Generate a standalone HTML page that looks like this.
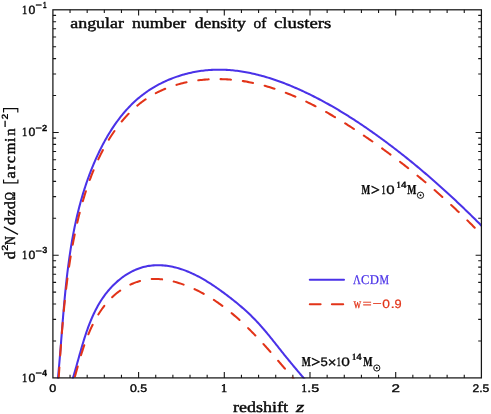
<!DOCTYPE html>
<html><head><meta charset="utf-8"><title>angular number density of clusters</title>
<style>html,body{margin:0;padding:0;background:#fff;}svg{display:block;will-change:transform;transform:translateZ(0)}text{font-kerning:none;text-rendering:geometricPrecision}</style></head>
<body>
<svg width="491" height="414" viewBox="0 0 491 414">
<rect width="491" height="414" fill="#fff"/>
<defs><clipPath id="c"><rect x="52.9" y="9.8" width="428.5" height="368.7"/></clipPath></defs>
<path d="M70.04 377.9 v-3.2 M70.04 9.8 v3.2 M87.18 377.9 v-3.2 M87.18 9.8 v3.2 M104.32 377.9 v-3.2 M104.32 9.8 v3.2 M121.46 377.9 v-3.2 M121.46 9.8 v3.2 M138.60 377.9 v-5.8 M138.60 9.8 v5.8 M155.74 377.9 v-3.2 M155.74 9.8 v3.2 M172.88 377.9 v-3.2 M172.88 9.8 v3.2 M190.02 377.9 v-3.2 M190.02 9.8 v3.2 M207.16 377.9 v-3.2 M207.16 9.8 v3.2 M224.30 377.9 v-5.8 M224.30 9.8 v5.8 M241.44 377.9 v-3.2 M241.44 9.8 v3.2 M258.58 377.9 v-3.2 M258.58 9.8 v3.2 M275.72 377.9 v-3.2 M275.72 9.8 v3.2 M292.86 377.9 v-3.2 M292.86 9.8 v3.2 M310.00 377.9 v-5.8 M310.00 9.8 v5.8 M327.14 377.9 v-3.2 M327.14 9.8 v3.2 M344.28 377.9 v-3.2 M344.28 9.8 v3.2 M361.42 377.9 v-3.2 M361.42 9.8 v3.2 M378.56 377.9 v-3.2 M378.56 9.8 v3.2 M395.70 377.9 v-5.8 M395.70 9.8 v5.8 M412.84 377.9 v-3.2 M412.84 9.8 v3.2 M429.98 377.9 v-3.2 M429.98 9.8 v3.2 M447.12 377.9 v-3.2 M447.12 9.8 v3.2 M464.26 377.9 v-3.2 M464.26 9.8 v3.2 M52.9 340.96 h3.2 M481.4 340.96 h-3.2 M52.9 319.36 h3.2 M481.4 319.36 h-3.2 M52.9 304.03 h3.2 M481.4 304.03 h-3.2 M52.9 292.14 h3.2 M481.4 292.14 h-3.2 M52.9 282.42 h3.2 M481.4 282.42 h-3.2 M52.9 274.21 h3.2 M481.4 274.21 h-3.2 M52.9 267.09 h3.2 M481.4 267.09 h-3.2 M52.9 260.81 h3.2 M481.4 260.81 h-3.2 M52.9 255.20 h5.8 M481.4 255.20 h-5.8 M52.9 218.26 h3.2 M481.4 218.26 h-3.2 M52.9 196.66 h3.2 M481.4 196.66 h-3.2 M52.9 181.33 h3.2 M481.4 181.33 h-3.2 M52.9 169.44 h3.2 M481.4 169.44 h-3.2 M52.9 159.72 h3.2 M481.4 159.72 h-3.2 M52.9 151.51 h3.2 M481.4 151.51 h-3.2 M52.9 144.39 h3.2 M481.4 144.39 h-3.2 M52.9 138.11 h3.2 M481.4 138.11 h-3.2 M52.9 132.50 h5.8 M481.4 132.50 h-5.8 M52.9 95.56 h3.2 M481.4 95.56 h-3.2 M52.9 73.96 h3.2 M481.4 73.96 h-3.2 M52.9 58.63 h3.2 M481.4 58.63 h-3.2 M52.9 46.74 h3.2 M481.4 46.74 h-3.2 M52.9 37.02 h3.2 M481.4 37.02 h-3.2 M52.9 28.81 h3.2 M481.4 28.81 h-3.2 M52.9 21.69 h3.2 M481.4 21.69 h-3.2 M52.9 15.41 h3.2 M481.4 15.41 h-3.2" stroke="#161616" stroke-width="1.1" fill="none"/>
<g clip-path="url(#c)" fill="none" stroke-linecap="round" stroke-linejoin="round" stroke-width="2.05">
<path d="M57.36 383.83 L57.52 382.37 L57.67 380.91 L57.81 379.45 L57.96 377.98 L58.10 376.52 L58.24 375.05 L58.38 373.58 L58.52 372.11 L58.66 370.64 L58.79 369.17 L58.92 367.70 L59.06 366.23 L59.19 364.75 L59.32 363.27 L59.44 361.80 L59.57 360.32 L59.70 358.84 L59.82 357.36 L59.94 355.88 L60.07 354.40 L60.19 352.92 L60.31 351.43 L60.43 349.95 L60.55 348.47 L60.67 346.98 L60.79 345.49 L60.91 344.01 L61.03 342.52 L61.14 341.03 L61.26 339.54 L61.38 338.05 L61.50 336.56 L61.61 335.07 L61.73 333.58 L61.85 332.09 L61.97 330.59 L62.09 329.10 L62.20 327.61 L62.32 326.11 L62.44 324.62 L62.56 323.13 L62.68 321.63 L62.80 320.14 L62.93 318.64 L63.05 317.14 L63.17 315.65 L63.30 314.15 L63.42 312.65 L63.55 311.16 L63.68 309.66 L63.81 308.16 L63.94 306.67 L64.07 305.17 L64.20 303.67 L64.34 302.17 L64.47 300.68 L64.61 299.18 L64.75 297.68 L64.89 296.18 L65.04 294.69 L65.18 293.19 L65.33 291.69 L65.48 290.19 L65.63 288.70 L65.78 287.20 L65.94 285.70 L66.10 284.21 L66.26 282.71 L66.42 281.22 L66.58 279.72 L66.75 278.23 L66.92 276.73 L67.10 275.24 L67.27 273.74 L67.45 272.25 L67.63 270.76 L67.82 269.26 L68.01 267.77 L68.20 266.28 L68.39 264.79 L68.59 263.30 L68.79 261.81 L68.99 260.32 L69.20 258.83 L69.41 257.34 L69.63 255.86 L69.85 254.37 L70.07 252.89 L70.30 251.40 L70.53 249.92 L70.76 248.43 L71.00 246.95 L71.24 245.47 L71.49 243.99 L71.74 242.51 L71.99 241.03 L72.25 239.55 L72.51 238.08 L72.78 236.60 L73.05 235.13 L73.33 233.65 L73.61 232.18 L73.90 230.71 L74.19 229.24 L74.49 227.77 L74.79 226.30 L75.09 224.83 L75.41 223.37 L75.72 221.90 L76.04 220.44 L76.37 218.98 L76.70 217.52 L77.04 216.06 L77.39 214.60 L77.74 213.14 L78.09 211.69 L78.45 210.24 L78.82 208.78 L79.19 207.33 L79.57 205.88 L79.95 204.44 L80.34 202.99 L80.74 201.55 L81.14 200.10 L81.55 198.66 L81.96 197.22 L82.39 195.79 L82.81 194.35 L83.25 192.92 L83.69 191.48 L84.14 190.05 L84.59 188.62 L85.05 187.20 L85.52 185.77 L85.99 184.35 L86.48 182.93 L86.97 181.51 L87.46 180.09 L87.97 178.67 L88.48 177.26 L88.99 175.85 L89.52 174.44 L90.05 173.03 L90.59 171.63 L91.14 170.22 L91.70 168.82 L92.26 167.42 L92.83 166.03 L93.41 164.63 L94.00 163.24 L94.60 161.85 L95.20 160.46 L95.81 159.08 L96.43 157.69 L97.06 156.31 L97.70 154.94 L98.34 153.56 L98.99 152.19 L99.66 150.82 L100.33 149.46 L101.01 148.10 L101.70 146.75 L102.39 145.40 L103.10 144.05 L103.82 142.71 L104.54 141.38 L105.27 140.05 L106.02 138.73 L106.77 137.41 L107.53 136.10 L108.31 134.80 L109.09 133.50 L109.88 132.21 L110.68 130.93 L111.49 129.66 L112.31 128.39 L113.14 127.13 L113.98 125.88 L114.83 124.64 L115.70 123.41 L116.57 122.19 L117.45 120.98 L118.34 119.77 L119.25 118.58 L120.16 117.40 L121.09 116.22 L122.02 115.06 L122.97 113.91 L123.93 112.77 L124.89 111.64 L125.87 110.53 L126.86 109.42 L127.87 108.33 L128.88 107.25 L129.90 106.18 L130.94 105.13 L131.99 104.08 L133.05 103.06 L134.12 102.04 L135.20 101.04 L136.30 100.06 L137.41 99.09 L138.53 98.13 L139.66 97.19 L140.80 96.26 L141.96 95.35 L143.12 94.45 L144.30 93.57 L145.49 92.71 L146.69 91.86 L147.91 91.02 L149.13 90.20 L150.36 89.40 L151.61 88.61 L152.86 87.84 L154.13 87.08 L155.40 86.34 L156.69 85.62 L157.98 84.91 L159.28 84.21 L160.59 83.54 L161.91 82.87 L163.24 82.23 L164.57 81.60 L165.92 80.98 L167.27 80.38 L168.63 79.80 L170.00 79.23 L171.37 78.68 L172.75 78.15 L174.14 77.63 L175.53 77.12 L176.93 76.64 L178.34 76.17 L179.75 75.71 L181.17 75.27 L182.59 74.85 L184.02 74.45 L185.45 74.06 L186.89 73.68 L188.33 73.33 L189.77 72.99 L191.22 72.66 L192.68 72.36 L194.14 72.07 L195.60 71.79 L197.06 71.53 L198.53 71.29 L200.00 71.07 L201.47 70.86 L202.95 70.67 L204.42 70.50 L205.90 70.34 L207.38 70.20 L208.87 70.07 L210.35 69.97 L211.84 69.88 L213.32 69.80 L214.81 69.74 L216.29 69.71 L217.78 69.68 L219.27 69.68 L220.75 69.69 L222.24 69.71 L223.73 69.76 L225.22 69.82 L226.70 69.89 L228.19 69.98 L229.67 70.09 L231.16 70.21 L232.65 70.34 L234.13 70.49 L235.61 70.66 L237.10 70.84 L238.58 71.03 L240.06 71.24 L241.54 71.46 L243.02 71.70 L244.50 71.95 L245.98 72.21 L247.46 72.49 L248.93 72.78 L250.41 73.08 L251.88 73.39 L253.35 73.72 L254.82 74.06 L256.29 74.41 L257.76 74.77 L259.23 75.14 L260.69 75.53 L262.15 75.92 L263.61 76.33 L265.07 76.75 L266.52 77.18 L267.98 77.62 L269.43 78.06 L270.88 78.52 L272.33 78.99 L273.77 79.47 L275.21 79.96 L276.65 80.46 L278.09 80.96 L279.52 81.48 L280.96 82.00 L282.38 82.54 L283.81 83.08 L285.23 83.63 L286.65 84.19 L288.07 84.75 L289.48 85.32 L290.89 85.90 L292.30 86.49 L293.71 87.08 L295.11 87.69 L296.50 88.29 L297.90 88.91 L299.29 89.53 L300.67 90.15 L302.06 90.79 L303.43 91.42 L304.81 92.07 L306.18 92.72 L307.55 93.37 L308.91 94.03 L310.27 94.69 L311.62 95.36 L312.97 96.04 L314.32 96.72 L315.67 97.40 L317.01 98.09 L318.34 98.78 L319.67 99.48 L321.00 100.18 L322.33 100.89 L323.65 101.60 L324.97 102.32 L326.29 103.04 L327.60 103.77 L328.91 104.50 L330.21 105.24 L331.51 105.97 L332.81 106.72 L334.11 107.47 L335.40 108.22 L336.69 108.98 L337.98 109.74 L339.26 110.50 L340.54 111.27 L341.82 112.04 L343.09 112.82 L344.37 113.60 L345.64 114.39 L346.90 115.17 L348.17 115.97 L349.43 116.76 L350.68 117.56 L351.94 118.36 L353.19 119.17 L354.44 119.98 L355.69 120.80 L356.94 121.61 L358.18 122.43 L359.42 123.26 L360.66 124.09 L361.90 124.92 L363.13 125.75 L364.36 126.59 L365.59 127.43 L366.82 128.27 L368.04 129.12 L369.27 129.97 L370.49 130.82 L371.71 131.68 L372.92 132.54 L374.14 133.40 L375.35 134.26 L376.57 135.13 L377.78 136.00 L378.98 136.87 L380.19 137.74 L381.39 138.62 L382.60 139.50 L383.80 140.39 L385.00 141.27 L386.19 142.16 L387.39 143.05 L388.58 143.95 L389.77 144.84 L390.96 145.74 L392.15 146.64 L393.34 147.55 L394.52 148.45 L395.71 149.36 L396.89 150.28 L398.07 151.19 L399.24 152.11 L400.42 153.03 L401.59 153.95 L402.77 154.87 L403.94 155.80 L405.11 156.73 L406.27 157.66 L407.44 158.59 L408.60 159.53 L409.76 160.47 L410.92 161.41 L412.08 162.35 L413.24 163.30 L414.39 164.25 L415.55 165.20 L416.70 166.15 L417.85 167.11 L419.00 168.07 L420.14 169.03 L421.29 169.99 L422.43 170.95 L423.57 171.92 L424.71 172.89 L425.85 173.86 L426.99 174.83 L428.12 175.81 L429.26 176.78 L430.39 177.76 L431.52 178.74 L432.64 179.73 L433.77 180.71 L434.90 181.70 L436.02 182.69 L437.14 183.68 L438.26 184.68 L439.38 185.68 L440.50 186.67 L441.61 187.67 L442.73 188.68 L443.84 189.68 L444.95 190.69 L446.06 191.69 L447.16 192.70 L448.27 193.72 L449.37 194.73 L450.48 195.75 L451.58 196.76 L452.68 197.78 L453.77 198.81 L454.87 199.83 L455.96 200.85 L457.06 201.88 L458.15 202.91 L459.24 203.94 L460.33 204.97 L461.41 206.01 L462.50 207.04 L463.58 208.08 L464.67 209.12 L465.75 210.16 L466.83 211.20 L467.90 212.25 L468.98 213.29 L470.05 214.34 L471.13 215.39 L472.20 216.44 L473.27 217.49 L474.34 218.55 L475.40 219.60 L476.47 220.66 L477.53 221.72 L478.60 222.78 L479.66 223.84 L480.72 224.91 L481.78 225.97 L482.83 227.04 L483.89 228.10 L484.94 229.17 L486.00 230.24" stroke="#4a32e8"/>
<path d="M71.07 383.88 L71.52 382.50 L71.97 381.11 L72.41 379.72 L72.84 378.32 L73.28 376.91 L73.70 375.50 L74.12 374.08 L74.54 372.66 L74.96 371.23 L75.37 369.80 L75.78 368.36 L76.19 366.92 L76.59 365.48 L77.00 364.04 L77.40 362.59 L77.81 361.14 L78.21 359.69 L78.62 358.24 L79.02 356.78 L79.43 355.33 L79.84 353.87 L80.25 352.42 L80.66 350.96 L81.08 349.50 L81.50 348.05 L81.92 346.59 L82.35 345.14 L82.78 343.68 L83.22 342.23 L83.66 340.78 L84.11 339.33 L84.56 337.89 L85.03 336.45 L85.49 335.01 L85.97 333.58 L86.45 332.14 L86.95 330.72 L87.45 329.30 L87.96 327.88 L88.48 326.47 L89.01 325.06 L89.55 323.66 L90.10 322.26 L90.67 320.87 L91.24 319.49 L91.83 318.12 L92.43 316.75 L93.04 315.39 L93.67 314.03 L94.30 312.69 L94.96 311.35 L95.63 310.03 L96.31 308.71 L97.01 307.40 L97.73 306.10 L98.46 304.81 L99.20 303.53 L99.97 302.26 L100.75 301.01 L101.55 299.76 L102.37 298.53 L103.21 297.30 L104.07 296.09 L104.94 294.89 L105.84 293.71 L106.76 292.54 L107.70 291.38 L108.66 290.23 L109.64 289.10 L110.64 287.99 L111.67 286.88 L112.71 285.80 L113.78 284.73 L114.87 283.68 L115.98 282.65 L117.11 281.63 L118.26 280.64 L119.43 279.67 L120.62 278.72 L121.82 277.80 L123.04 276.90 L124.28 276.03 L125.54 275.18 L126.82 274.37 L128.10 273.58 L129.41 272.82 L130.73 272.09 L132.06 271.39 L133.41 270.73 L134.77 270.10 L136.15 269.50 L137.54 268.94 L138.94 268.42 L140.35 267.94 L141.77 267.49 L143.21 267.08 L144.65 266.72 L146.11 266.39 L147.57 266.11 L149.04 265.87 L150.52 265.66 L152.01 265.50 L153.49 265.37 L154.99 265.29 L156.48 265.23 L157.97 265.22 L159.47 265.24 L160.96 265.29 L162.45 265.37 L163.94 265.49 L165.42 265.64 L166.90 265.82 L168.37 266.03 L169.83 266.27 L171.29 266.54 L172.74 266.83 L174.19 267.15 L175.63 267.51 L177.06 267.88 L178.49 268.28 L179.92 268.71 L181.33 269.16 L182.74 269.64 L184.15 270.14 L185.55 270.66 L186.94 271.20 L188.33 271.76 L189.71 272.35 L191.09 272.95 L192.46 273.57 L193.82 274.22 L195.18 274.88 L196.53 275.55 L197.88 276.25 L199.22 276.96 L200.55 277.69 L201.88 278.43 L203.20 279.18 L204.52 279.95 L205.83 280.73 L207.13 281.53 L208.43 282.33 L209.73 283.15 L211.01 283.98 L212.29 284.82 L213.57 285.66 L214.83 286.52 L216.10 287.38 L217.35 288.26 L218.60 289.13 L219.85 290.02 L221.08 290.91 L222.31 291.80 L223.54 292.70 L224.76 293.60 L225.97 294.51 L227.18 295.42 L228.38 296.33 L229.58 297.24 L230.76 298.16 L231.95 299.08 L233.12 300.01 L234.29 300.94 L235.45 301.88 L236.61 302.82 L237.76 303.76 L238.90 304.72 L240.03 305.67 L241.16 306.64 L242.28 307.61 L243.40 308.58 L244.50 309.56 L245.60 310.55 L246.70 311.55 L247.78 312.55 L248.86 313.56 L249.93 314.58 L250.99 315.61 L252.05 316.65 L253.09 317.69 L254.13 318.75 L255.17 319.81 L256.19 320.88 L257.21 321.96 L258.22 323.05 L259.22 324.15 L260.21 325.26 L261.20 326.37 L262.19 327.49 L263.16 328.61 L264.14 329.74 L265.10 330.88 L266.07 332.02 L267.02 333.17 L267.98 334.32 L268.92 335.47 L269.87 336.63 L270.81 337.79 L271.75 338.95 L272.68 340.12 L273.61 341.28 L274.54 342.45 L275.47 343.62 L276.39 344.79 L277.32 345.96 L278.24 347.13 L279.16 348.30 L280.08 349.46 L281.00 350.63 L281.93 351.79 L282.85 352.95 L283.78 354.11 L284.71 355.27 L285.64 356.42 L286.58 357.57 L287.51 358.73 L288.45 359.87 L289.39 361.02 L290.34 362.17 L291.28 363.31 L292.23 364.46 L293.18 365.60 L294.13 366.74 L295.09 367.88 L296.04 369.02 L297.00 370.17 L297.96 371.31 L298.92 372.45 L299.89 373.59 L300.85 374.74 L301.82 375.88 L302.78 377.03 L303.75 378.18 L304.72 379.33 L305.68 380.48 L306.64 381.64 L307.61 382.80 L308.57 383.97" stroke="#4a32e8"/>
<path d="M58.28 383.98 L58.38 382.50 L58.48 381.01 L58.58 379.52 L58.68 378.04 L58.78 376.55 L58.88 375.06 L58.98 373.57 L59.08 372.08 L59.18 370.60 L59.28 369.11 L59.38 367.62 L59.48 366.13 L59.58 364.64 L59.68 363.15 L59.79 361.65 L59.89 360.16 L59.99 358.67 L60.09 357.18 L60.20 355.69 L60.30 354.19 L60.41 352.70 L60.51 351.21 L60.62 349.71 L60.73 348.22 L60.84 346.73 L60.94 345.23 L61.05 343.74 L61.17 342.24 L61.28 340.75 L61.39 339.26 L61.50 337.76 L61.62 336.27 L61.74 334.77 L61.85 333.28 L61.97 331.78 L62.09 330.29 L62.22 328.79 L62.34 327.30 L62.46 325.80 L62.59 324.31 L62.72 322.81 L62.85 321.32 L62.98 319.83 L63.11 318.33 L63.24 316.84 L63.38 315.34 L63.52 313.85 L63.66 312.35 L63.80 310.86 L63.94 309.37 L64.09 307.87 L64.23 306.38 L64.38 304.89 L64.54 303.40 L64.69 301.90 L64.84 300.41 L65.00 298.92 L65.16 297.43 L65.33 295.94 L65.49 294.45 L65.66 292.96 L65.83 291.47 L66.00 289.98 L66.18 288.49 L66.35 287.00 L66.53 285.51 L66.72 284.02 L66.90 282.53 L67.09 281.05 L67.28 279.56 L67.48 278.07 L67.67 276.59 L67.87 275.10 L68.08 273.62 L68.28 272.14 L68.49 270.65 L68.70 269.17 L68.92 267.69 L69.14 266.21 L69.36 264.73 L69.58 263.24 L69.81 261.77 L70.04 260.29 L70.28 258.81 L70.52 257.33 L70.76 255.85 L71.01 254.38 L71.25 252.90 L71.51 251.43 L71.76 249.95 L72.02 248.48 L72.29 247.01 L72.56 245.54 L72.83 244.07 L73.10 242.60 L73.38 241.13 L73.67 239.66 L73.95 238.20 L74.25 236.73 L74.54 235.26 L74.84 233.80 L75.15 232.34 L75.45 230.87 L75.77 229.41 L76.08 227.95 L76.40 226.49 L76.73 225.04 L77.06 223.58 L77.40 222.12 L77.74 220.67 L78.08 219.22 L78.43 217.76 L78.79 216.31 L79.15 214.86 L79.51 213.42 L79.88 211.97 L80.26 210.53 L80.64 209.08 L81.03 207.64 L81.42 206.20 L81.82 204.76 L82.22 203.32 L82.63 201.89 L83.05 200.45 L83.47 199.02 L83.90 197.59 L84.33 196.16 L84.77 194.74 L85.22 193.31 L85.67 191.89 L86.13 190.47 L86.60 189.05 L87.07 187.63 L87.56 186.22 L88.04 184.81 L88.54 183.40 L89.04 181.99 L89.55 180.58 L90.06 179.18 L90.59 177.78 L91.12 176.38 L91.66 174.98 L92.20 173.59 L92.76 172.19 L93.32 170.81 L93.89 169.42 L94.46 168.03 L95.05 166.65 L95.64 165.27 L96.25 163.90 L96.86 162.53 L97.48 161.16 L98.10 159.79 L98.74 158.43 L99.39 157.07 L100.04 155.72 L100.71 154.37 L101.39 153.03 L102.07 151.68 L102.77 150.35 L103.47 149.02 L104.19 147.69 L104.91 146.37 L105.65 145.06 L106.40 143.75 L107.15 142.44 L107.92 141.14 L108.70 139.85 L109.50 138.56 L110.30 137.28 L111.11 136.01 L111.94 134.74 L112.78 133.48 L113.63 132.23 L114.49 130.99 L115.36 129.76 L116.24 128.53 L117.14 127.31 L118.04 126.11 L118.96 124.91 L119.89 123.72 L120.84 122.55 L121.79 121.38 L122.75 120.23 L123.73 119.08 L124.72 117.95 L125.72 116.83 L126.73 115.73 L127.76 114.63 L128.80 113.55 L129.84 112.49 L130.91 111.43 L131.98 110.40 L133.06 109.37 L134.16 108.36 L135.27 107.37 L136.39 106.39 L137.52 105.43 L138.67 104.48 L139.83 103.55 L141.00 102.64 L142.18 101.74 L143.38 100.86 L144.58 100.00 L145.80 99.16 L147.04 98.34 L148.28 97.53 L149.54 96.75 L150.80 95.98 L152.08 95.23 L153.37 94.50 L154.68 93.78 L155.99 93.09 L157.31 92.41 L158.64 91.76 L159.99 91.11 L161.34 90.49 L162.70 89.89 L164.07 89.30 L165.45 88.73 L166.83 88.18 L168.23 87.64 L169.63 87.12 L171.04 86.62 L172.45 86.14 L173.88 85.67 L175.31 85.22 L176.74 84.79 L178.18 84.37 L179.63 83.97 L181.08 83.59 L182.54 83.22 L184.00 82.87 L185.47 82.54 L186.94 82.22 L188.41 81.92 L189.89 81.63 L191.37 81.36 L192.86 81.10 L194.35 80.86 L195.83 80.64 L197.33 80.43 L198.82 80.24 L200.31 80.06 L201.81 79.90 L203.31 79.75 L204.81 79.62 L206.30 79.50 L207.80 79.40 L209.30 79.31 L210.80 79.24 L212.29 79.18 L213.79 79.14 L215.28 79.11 L216.77 79.09 L218.26 79.09 L219.75 79.11 L221.24 79.13 L222.72 79.17 L224.21 79.23 L225.69 79.30 L227.17 79.38 L228.65 79.47 L230.12 79.58 L231.59 79.70 L233.07 79.84 L234.54 79.98 L236.00 80.14 L237.47 80.32 L238.94 80.50 L240.40 80.70 L241.86 80.91 L243.32 81.13 L244.77 81.37 L246.23 81.61 L247.68 81.87 L249.13 82.14 L250.58 82.42 L252.03 82.71 L253.47 83.02 L254.92 83.33 L256.36 83.66 L257.79 84.00 L259.23 84.35 L260.67 84.71 L262.10 85.08 L263.53 85.46 L264.96 85.85 L266.38 86.25 L267.81 86.67 L269.23 87.09 L270.65 87.52 L272.07 87.96 L273.48 88.42 L274.90 88.88 L276.31 89.35 L277.72 89.83 L279.13 90.32 L280.53 90.82 L281.93 91.33 L283.33 91.85 L284.73 92.37 L286.13 92.91 L287.52 93.45 L288.91 94.00 L290.30 94.57 L291.69 95.13 L293.08 95.71 L294.46 96.30 L295.84 96.89 L297.22 97.49 L298.59 98.10 L299.97 98.72 L301.34 99.34 L302.71 99.97 L304.07 100.61 L305.44 101.26 L306.80 101.91 L308.16 102.57 L309.52 103.24 L310.87 103.91 L312.22 104.59 L313.58 105.28 L314.92 105.97 L316.27 106.67 L317.61 107.38 L318.95 108.09 L320.29 108.81 L321.62 109.53 L322.96 110.26 L324.29 110.99 L325.62 111.73 L326.94 112.48 L328.27 113.23 L329.59 113.99 L330.90 114.75 L332.22 115.51 L333.53 116.28 L334.84 117.06 L336.15 117.84 L337.46 118.62 L338.76 119.41 L340.06 120.20 L341.36 121.00 L342.65 121.80 L343.95 122.60 L345.24 123.41 L346.52 124.22 L347.81 125.04 L349.09 125.85 L350.37 126.68 L351.65 127.50 L352.92 128.33 L354.19 129.16 L355.46 129.99 L356.73 130.83 L357.99 131.67 L359.25 132.51 L360.51 133.35 L361.76 134.20 L363.02 135.05 L364.27 135.90 L365.51 136.75 L366.76 137.60 L368.00 138.46 L369.24 139.32 L370.47 140.17 L371.71 141.03 L372.94 141.90 L374.17 142.76 L375.39 143.62 L376.61 144.49 L377.83 145.36 L379.05 146.23 L380.27 147.10 L381.48 147.97 L382.69 148.85 L383.89 149.73 L385.10 150.61 L386.30 151.49 L387.50 152.37 L388.70 153.25 L389.89 154.14 L391.08 155.03 L392.27 155.92 L393.46 156.81 L394.65 157.70 L395.83 158.60 L397.01 159.50 L398.19 160.40 L399.37 161.30 L400.54 162.20 L401.71 163.11 L402.88 164.02 L404.05 164.93 L405.22 165.84 L406.38 166.75 L407.54 167.67 L408.70 168.59 L409.86 169.51 L411.01 170.43 L412.16 171.36 L413.32 172.28 L414.47 173.21 L415.61 174.14 L416.76 175.08 L417.90 176.01 L419.04 176.95 L420.18 177.89 L421.32 178.84 L422.46 179.78 L423.59 180.73 L424.73 181.68 L425.86 182.64 L426.99 183.59 L428.11 184.55 L429.24 185.51 L430.36 186.47 L431.49 187.44 L432.61 188.41 L433.73 189.38 L434.85 190.35 L435.96 191.32 L437.08 192.30 L438.19 193.28 L439.30 194.27 L440.41 195.25 L441.52 196.24 L442.63 197.23 L443.74 198.23 L444.84 199.23 L445.95 200.23 L447.05 201.23 L448.15 202.23 L449.25 203.24 L450.35 204.25 L451.45 205.27 L452.54 206.28 L453.64 207.30 L454.73 208.33 L455.82 209.35 L456.92 210.38 L458.01 211.41 L459.10 212.45 L460.18 213.48 L461.27 214.52 L462.36 215.57 L463.44 216.61 L464.53 217.66 L465.61 218.72 L466.69 219.77 L467.78 220.83 L468.86 221.89 L469.94 222.96 L471.02 224.03 L472.10 225.10 L473.17 226.17 L474.25 227.25 L475.33 228.33 L476.40 229.42 L477.48 230.51 L478.55 231.60 L479.62 232.69 L480.70 233.79 L481.77 234.89 L482.84 235.99 L483.91 237.10 L484.98 238.21 L486.05 239.33" stroke="#e23318" stroke-dasharray="10.4 11.92" stroke-dashoffset="-6.21"/>
<path d="M73.05 383.59 L73.41 382.29 L73.77 380.98 L74.13 379.65 L74.50 378.31 L74.86 376.96 L75.23 375.60 L75.60 374.23 L75.98 372.85 L76.36 371.46 L76.74 370.06 L77.13 368.65 L77.52 367.24 L77.91 365.82 L78.32 364.39 L78.72 362.96 L79.14 361.52 L79.56 360.08 L79.98 358.63 L80.41 357.18 L80.85 355.73 L81.30 354.27 L81.76 352.81 L82.22 351.36 L82.69 349.90 L83.17 348.44 L83.66 346.98 L84.16 345.52 L84.67 344.06 L85.19 342.61 L85.72 341.15 L86.26 339.70 L86.81 338.26 L87.37 336.82 L87.94 335.38 L88.53 333.95 L89.12 332.52 L89.73 331.10 L90.36 329.69 L90.99 328.29 L91.64 326.89 L92.31 325.50 L92.98 324.12 L93.67 322.75 L94.38 321.39 L95.10 320.05 L95.84 318.71 L96.59 317.38 L97.36 316.07 L98.15 314.77 L98.95 313.49 L99.77 312.22 L100.60 310.96 L101.46 309.72 L102.33 308.49 L103.22 307.28 L104.12 306.09 L105.05 304.91 L106.00 303.76 L106.96 302.62 L107.95 301.50 L108.95 300.40 L109.98 299.32 L111.03 298.26 L112.10 297.23 L113.18 296.21 L114.29 295.22 L115.42 294.25 L116.57 293.30 L117.74 292.38 L118.93 291.48 L120.13 290.61 L121.35 289.77 L122.59 288.95 L123.84 288.16 L125.11 287.40 L126.40 286.66 L127.70 285.96 L129.01 285.28 L130.33 284.64 L131.67 284.03 L133.02 283.45 L134.39 282.90 L135.76 282.38 L137.14 281.90 L138.54 281.45 L139.94 281.04 L141.35 280.66 L142.77 280.32 L144.20 280.01 L145.64 279.74 L147.08 279.51 L148.53 279.32 L149.98 279.17 L151.44 279.06 L152.91 278.98 L154.37 278.95 L155.84 278.95 L157.32 278.99 L158.79 279.06 L160.27 279.17 L161.75 279.31 L163.23 279.48 L164.70 279.68 L166.18 279.91 L167.66 280.17 L169.13 280.46 L170.60 280.78 L172.07 281.12 L173.54 281.48 L175.00 281.87 L176.45 282.28 L177.90 282.71 L179.35 283.16 L180.79 283.63 L182.22 284.12 L183.64 284.62 L185.05 285.14 L186.46 285.68 L187.86 286.23 L189.25 286.80 L190.63 287.38 L192.01 287.98 L193.37 288.59 L194.73 289.21 L196.08 289.85 L197.43 290.51 L198.76 291.18 L200.09 291.86 L201.41 292.55 L202.73 293.26 L204.03 293.98 L205.33 294.71 L206.62 295.46 L207.91 296.22 L209.19 296.99 L210.46 297.77 L211.72 298.56 L212.98 299.37 L214.23 300.18 L215.47 301.01 L216.71 301.85 L217.94 302.70 L219.17 303.56 L220.38 304.43 L221.60 305.31 L222.80 306.20 L224.00 307.10 L225.19 308.01 L226.38 308.93 L227.56 309.86 L228.74 310.80 L229.90 311.75 L231.07 312.70 L232.23 313.66 L233.38 314.63 L234.52 315.61 L235.66 316.60 L236.80 317.59 L237.93 318.60 L239.06 319.60 L240.17 320.62 L241.29 321.64 L242.40 322.67 L243.50 323.71 L244.60 324.75 L245.70 325.79 L246.79 326.85 L247.87 327.91 L248.95 328.97 L250.03 330.04 L251.10 331.11 L252.16 332.19 L253.23 333.27 L254.28 334.36 L255.34 335.45 L256.39 336.55 L257.43 337.65 L258.47 338.75 L259.51 339.85 L260.54 340.96 L261.57 342.07 L262.60 343.19 L263.62 344.31 L264.64 345.43 L265.65 346.55 L266.66 347.67 L267.67 348.79 L268.67 349.92 L269.68 351.05 L270.67 352.18 L271.67 353.31 L272.66 354.44 L273.65 355.57 L274.63 356.70 L275.62 357.83 L276.59 358.96 L277.57 360.09 L278.55 361.22 L279.52 362.35 L280.49 363.48 L281.45 364.61 L282.42 365.73 L283.38 366.86 L284.34 367.98 L285.30 369.10 L286.25 370.22 L287.20 371.34 L288.16 372.45 L289.10 373.56 L290.05 374.67 L291.00 375.77 L291.94 376.87 L292.88 377.97 L293.82 379.07 L294.76 380.16 L295.70 381.24 L296.64 382.33 L297.57 383.40" stroke="#e23318" stroke-dasharray="10.4 11.8" stroke-dashoffset="-7.27"/>
</g>
<rect x="52.9" y="9.8" width="428.5" height="368.09999999999997" fill="none" stroke="#161616" stroke-width="1.25"/>
<path d="M309.8 279.8 H344.0" stroke="#4a32e8" stroke-width="2.05" stroke-linecap="round"/>
<path d="M309.8 304.2 H320.6 M331.9 304.2 H343.2" stroke="#e23318" stroke-width="2.05" stroke-linecap="round"/>
<text x="352.92" y="283.90" font-family="Liberation Serif" font-size="13.4" fill="#4a32e8" textLength="7.87" lengthAdjust="spacingAndGlyphs" stroke="#4a32e8" stroke-width="0.25">Λ</text>
<text x="361.01" y="283.90" font-family="Liberation Serif" font-size="13.4" fill="#4a32e8" textLength="8.35" lengthAdjust="spacingAndGlyphs" stroke="#4a32e8" stroke-width="0.25">C</text>
<text x="369.76" y="283.90" font-family="Liberation Serif" font-size="13.4" fill="#4a32e8" textLength="9.23" lengthAdjust="spacingAndGlyphs" stroke="#4a32e8" stroke-width="0.25">D</text>
<text x="379.62" y="283.90" font-family="Liberation Serif" font-size="13.4" fill="#4a32e8" textLength="9.52" lengthAdjust="spacingAndGlyphs" stroke="#4a32e8" stroke-width="0.25">M</text>
<text x="353.61" y="308.30" font-family="Liberation Serif" font-size="14.4" fill="#e23318" textLength="7.71" lengthAdjust="spacingAndGlyphs" stroke="#e23318" stroke-width="0.25">w</text>
<text x="362.61" y="308.30" font-family="Liberation Serif" font-size="13.4" fill="#e23318" textLength="9.27" lengthAdjust="spacingAndGlyphs" stroke="#e23318" stroke-width="0.25">=</text>
<text x="372.41" y="308.30" font-family="Liberation Serif" font-size="13.4" fill="#e23318" textLength="9.27" lengthAdjust="spacingAndGlyphs" stroke="#e23318" stroke-width="0.25">−</text>
<text x="382.36" y="308.40" font-family="Liberation Sans" font-size="12.1" fill="#e23318" textLength="7.68" lengthAdjust="spacingAndGlyphs" stroke="#e23318" stroke-width="0.2">0</text>
<text x="390.46" y="308.40" font-family="Liberation Sans" font-size="12.1" fill="#e23318" textLength="4.38" lengthAdjust="spacingAndGlyphs" stroke="#e23318" stroke-width="0.2">.</text>
<text x="394.60" y="308.40" font-family="Liberation Sans" font-size="12.1" fill="#e23318" textLength="7.10" lengthAdjust="spacingAndGlyphs" stroke="#e23318" stroke-width="0.2">9</text>
<text x="70.28" y="28.00" font-family="Liberation Serif" font-size="15.1" fill="#0a0a0a" textLength="53.67" lengthAdjust="spacingAndGlyphs" stroke="#0a0a0a" stroke-width="0.42">angular</text>
<text x="131.90" y="28.00" font-family="Liberation Serif" font-size="15.1" fill="#0a0a0a" textLength="54.34" lengthAdjust="spacingAndGlyphs" stroke="#0a0a0a" stroke-width="0.42">number</text>
<text x="194.77" y="28.00" font-family="Liberation Serif" font-size="15.1" fill="#0a0a0a" textLength="51.09" lengthAdjust="spacingAndGlyphs" stroke="#0a0a0a" stroke-width="0.42">density</text>
<text x="253.62" y="28.00" font-family="Liberation Serif" font-size="15.1" fill="#0a0a0a" textLength="12.87" lengthAdjust="spacingAndGlyphs" stroke="#0a0a0a" stroke-width="0.42">of</text>
<text x="274.05" y="28.00" font-family="Liberation Serif" font-size="15.1" fill="#0a0a0a" textLength="57.22" lengthAdjust="spacingAndGlyphs" stroke="#0a0a0a" stroke-width="0.42">clusters</text>
<text x="233.05" y="411.90" font-family="Liberation Serif" font-size="15.1" fill="#0a0a0a" textLength="55.05" lengthAdjust="spacingAndGlyphs" stroke="#0a0a0a" stroke-width="0.42">redshift</text>
<text x="296.05" y="411.90" font-family="Liberation Serif" font-size="15.1" font-style="italic" fill="#0a0a0a" textLength="8.22" lengthAdjust="spacingAndGlyphs" stroke="#0a0a0a" stroke-width="0.42">z</text>
<text x="49.21" y="392.00" font-family="Liberation Sans" font-size="11.0" fill="#0a0a0a" textLength="6.98" lengthAdjust="spacingAndGlyphs" stroke="#0a0a0a" stroke-width="0.4">0</text>
<text x="129.92" y="392.00" font-family="Liberation Sans" font-size="11.0" fill="#0a0a0a" textLength="17.10" lengthAdjust="spacingAndGlyphs" stroke="#0a0a0a" stroke-width="0.4">0.5</text>
<text x="220.96" y="392.00" font-family="Liberation Serif" font-size="11.8" fill="#0a0a0a" textLength="6.18" lengthAdjust="spacingAndGlyphs" stroke="#0a0a0a" stroke-width="0.5">1</text>
<text x="301.50" y="392.00" font-family="Liberation Serif" font-size="11.8" fill="#0a0a0a" textLength="5.40" lengthAdjust="spacingAndGlyphs" stroke="#0a0a0a" stroke-width="0.5">1</text>
<text x="307.20" y="392.00" font-family="Liberation Sans" font-size="11.0" fill="#0a0a0a" textLength="11.90" lengthAdjust="spacingAndGlyphs" stroke="#0a0a0a" stroke-width="0.4">.5</text>
<text x="391.44" y="392.00" font-family="Liberation Sans" font-size="11.0" fill="#0a0a0a" textLength="8.42" lengthAdjust="spacingAndGlyphs" stroke="#0a0a0a" stroke-width="0.4">2</text>
<text x="472.50" y="392.00" font-family="Liberation Sans" font-size="11.0" fill="#0a0a0a" textLength="16.71" lengthAdjust="spacingAndGlyphs" stroke="#0a0a0a" stroke-width="0.4">2.5</text>
<text x="22.11" y="13.65" font-family="Liberation Serif" font-size="12.5" fill="#0a0a0a" textLength="5.18" lengthAdjust="spacingAndGlyphs" stroke="#0a0a0a" stroke-width="0.45">1</text>
<text x="28.47" y="13.65" font-family="Liberation Sans" font-size="11.8" fill="#0a0a0a" textLength="6.81" lengthAdjust="spacingAndGlyphs" stroke="#0a0a0a" stroke-width="0.4">0</text>
<text x="35.57" y="8.15" font-family="Liberation Sans" font-size="9.0" font-weight="bold" fill="#0a0a0a" textLength="6.35" lengthAdjust="spacingAndGlyphs" stroke="#0a0a0a" stroke-width="0.25">−</text>
<text x="42.96" y="8.05" font-family="Liberation Sans" font-size="8.9" font-weight="bold" fill="#0a0a0a" textLength="3.47" lengthAdjust="spacingAndGlyphs" stroke="#0a0a0a" stroke-width="0.3">1</text>
<text x="22.11" y="136.35" font-family="Liberation Serif" font-size="12.5" fill="#0a0a0a" textLength="5.18" lengthAdjust="spacingAndGlyphs" stroke="#0a0a0a" stroke-width="0.45">1</text>
<text x="28.47" y="136.35" font-family="Liberation Sans" font-size="11.8" fill="#0a0a0a" textLength="6.81" lengthAdjust="spacingAndGlyphs" stroke="#0a0a0a" stroke-width="0.4">0</text>
<text x="35.57" y="130.85" font-family="Liberation Sans" font-size="9.0" font-weight="bold" fill="#0a0a0a" textLength="6.35" lengthAdjust="spacingAndGlyphs" stroke="#0a0a0a" stroke-width="0.25">−</text>
<text x="42.13" y="130.75" font-family="Liberation Sans" font-size="8.9" font-weight="bold" fill="#0a0a0a" textLength="5.20" lengthAdjust="spacingAndGlyphs" stroke="#0a0a0a" stroke-width="0.3">2</text>
<text x="22.11" y="259.05" font-family="Liberation Serif" font-size="12.5" fill="#0a0a0a" textLength="5.18" lengthAdjust="spacingAndGlyphs" stroke="#0a0a0a" stroke-width="0.45">1</text>
<text x="28.47" y="259.05" font-family="Liberation Sans" font-size="11.8" fill="#0a0a0a" textLength="6.81" lengthAdjust="spacingAndGlyphs" stroke="#0a0a0a" stroke-width="0.4">0</text>
<text x="35.57" y="253.55" font-family="Liberation Sans" font-size="9.0" font-weight="bold" fill="#0a0a0a" textLength="6.35" lengthAdjust="spacingAndGlyphs" stroke="#0a0a0a" stroke-width="0.25">−</text>
<text x="42.24" y="253.45" font-family="Liberation Sans" font-size="8.9" font-weight="bold" fill="#0a0a0a" textLength="5.03" lengthAdjust="spacingAndGlyphs" stroke="#0a0a0a" stroke-width="0.3">3</text>
<text x="22.11" y="381.75" font-family="Liberation Serif" font-size="12.5" fill="#0a0a0a" textLength="5.18" lengthAdjust="spacingAndGlyphs" stroke="#0a0a0a" stroke-width="0.45">1</text>
<text x="28.47" y="381.75" font-family="Liberation Sans" font-size="11.8" fill="#0a0a0a" textLength="6.81" lengthAdjust="spacingAndGlyphs" stroke="#0a0a0a" stroke-width="0.4">0</text>
<text x="35.57" y="376.25" font-family="Liberation Sans" font-size="9.0" font-weight="bold" fill="#0a0a0a" textLength="6.35" lengthAdjust="spacingAndGlyphs" stroke="#0a0a0a" stroke-width="0.25">−</text>
<text x="42.32" y="376.15" font-family="Liberation Sans" font-size="8.9" font-weight="bold" fill="#0a0a0a" textLength="4.67" lengthAdjust="spacingAndGlyphs" stroke="#0a0a0a" stroke-width="0.3">4</text>
<text x="361.54" y="194.00" font-family="Liberation Serif" font-size="13.7" font-weight="bold" fill="#0a0a0a" textLength="8.67" lengthAdjust="spacingAndGlyphs" stroke="#0a0a0a" stroke-width="0.3">M</text><text x="370.98" y="194.75" font-family="Liberation Serif" font-size="15.6" fill="#0a0a0a" textLength="8.79" lengthAdjust="spacingAndGlyphs" stroke="#0a0a0a" stroke-width="0.55">&gt;</text><text x="381.60" y="194.00" font-family="Liberation Serif" font-size="13.038000000000002" fill="#0a0a0a" textLength="4.12" lengthAdjust="spacingAndGlyphs" stroke="#0a0a0a" stroke-width="0.55">1</text><text x="386.36" y="194.00" font-family="Liberation Sans" font-size="12.3" fill="#0a0a0a" textLength="8.38" lengthAdjust="spacingAndGlyphs" stroke="#0a0a0a" stroke-width="0.3">0</text><text x="396.59" y="187.95" font-family="Liberation Serif" font-size="9.540000000000001" font-weight="bold" fill="#0a0a0a" textLength="4.14" lengthAdjust="spacingAndGlyphs" stroke="#0a0a0a" stroke-width="0.2">1</text><text x="400.92" y="187.95" font-family="Liberation Sans" font-size="9.0" font-weight="bold" fill="#0a0a0a" textLength="5.55" lengthAdjust="spacingAndGlyphs" stroke="#0a0a0a" stroke-width="0.15">4</text><text x="407.28" y="194.00" font-family="Liberation Serif" font-size="13.7" font-weight="bold" fill="#0a0a0a" textLength="9.14" lengthAdjust="spacingAndGlyphs" stroke="#0a0a0a" stroke-width="0.3">M</text>
<circle cx="420.5" cy="195.25" r="3.15" fill="none" stroke="#0a0a0a" stroke-width="0.95"/><circle cx="420.5" cy="195.25" r="0.95" fill="#0a0a0a"/>
<text x="301.64" y="365.95" font-family="Liberation Serif" font-size="13.7" font-weight="bold" fill="#0a0a0a" textLength="9.09" lengthAdjust="spacingAndGlyphs" stroke="#0a0a0a" stroke-width="0.3">M</text><text x="311.15" y="366.70" font-family="Liberation Serif" font-size="15.6" fill="#0a0a0a" textLength="9.15" lengthAdjust="spacingAndGlyphs" stroke="#0a0a0a" stroke-width="0.55">&gt;</text><text x="320.43" y="365.95" font-family="Liberation Sans" font-size="12.3" fill="#0a0a0a" textLength="7.27" lengthAdjust="spacingAndGlyphs" stroke="#0a0a0a" stroke-width="0.3">5</text><text x="327.67" y="366.50" font-family="Liberation Sans" font-size="13.8" fill="#0a0a0a" textLength="8.71" lengthAdjust="spacingAndGlyphs" stroke="#0a0a0a" stroke-width="0.3">×</text><text x="336.76" y="365.95" font-family="Liberation Serif" font-size="13.038000000000002" fill="#0a0a0a" textLength="4.05" lengthAdjust="spacingAndGlyphs" stroke="#0a0a0a" stroke-width="0.55">1</text><text x="341.25" y="365.95" font-family="Liberation Sans" font-size="12.3" fill="#0a0a0a" textLength="8.61" lengthAdjust="spacingAndGlyphs" stroke="#0a0a0a" stroke-width="0.3">0</text><text x="351.93" y="360.00" font-family="Liberation Serif" font-size="9.540000000000001" font-weight="bold" fill="#0a0a0a" textLength="4.21" lengthAdjust="spacingAndGlyphs" stroke="#0a0a0a" stroke-width="0.2">1</text><text x="356.33" y="360.00" font-family="Liberation Sans" font-size="9.0" font-weight="bold" fill="#0a0a0a" textLength="5.45" lengthAdjust="spacingAndGlyphs" stroke="#0a0a0a" stroke-width="0.15">4</text><text x="363.28" y="365.95" font-family="Liberation Serif" font-size="13.7" font-weight="bold" fill="#0a0a0a" textLength="9.30" lengthAdjust="spacingAndGlyphs" stroke="#0a0a0a" stroke-width="0.3">M</text>
<circle cx="376.8" cy="368.0" r="3.1" fill="none" stroke="#0a0a0a" stroke-width="0.95"/><circle cx="376.8" cy="368.0" r="0.95" fill="#0a0a0a"/>
<g transform="translate(15.4 259.3) rotate(-90)"><text x="-0.05" y="0.00" font-family="Liberation Serif" font-size="15.1" fill="#0a0a0a" textLength="7.92" lengthAdjust="spacingAndGlyphs" stroke="#0a0a0a" stroke-width="0.45">d</text><text x="14.37" y="0.00" font-family="Liberation Serif" font-size="15.1" fill="#0a0a0a" textLength="8.78" lengthAdjust="spacingAndGlyphs" stroke="#0a0a0a" stroke-width="0.45">N</text><text x="34.25" y="0.00" font-family="Liberation Serif" font-size="15.1" fill="#0a0a0a" textLength="8.03" lengthAdjust="spacingAndGlyphs" stroke="#0a0a0a" stroke-width="0.45">d</text><text x="43.12" y="0.00" font-family="Liberation Serif" font-size="15.1" fill="#0a0a0a" textLength="6.67" lengthAdjust="spacingAndGlyphs" stroke="#0a0a0a" stroke-width="0.45">z</text><text x="50.14" y="0.00" font-family="Liberation Serif" font-size="15.1" fill="#0a0a0a" textLength="8.14" lengthAdjust="spacingAndGlyphs" stroke="#0a0a0a" stroke-width="0.45">d</text><text x="58.83" y="0.00" font-family="Liberation Serif" font-size="15.1" fill="#0a0a0a" textLength="8.48" lengthAdjust="spacingAndGlyphs" stroke="#0a0a0a" stroke-width="0.45">Ω</text><text x="80.71" y="0.00" font-family="Liberation Serif" font-size="15.1" fill="#0a0a0a" textLength="7.08" lengthAdjust="spacingAndGlyphs" stroke="#0a0a0a" stroke-width="0.45">a</text><text x="89.39" y="0.00" font-family="Liberation Serif" font-size="15.1" fill="#0a0a0a" textLength="5.53" lengthAdjust="spacingAndGlyphs" stroke="#0a0a0a" stroke-width="0.45">r</text><text x="96.33" y="0.00" font-family="Liberation Serif" font-size="15.1" fill="#0a0a0a" textLength="6.92" lengthAdjust="spacingAndGlyphs" stroke="#0a0a0a" stroke-width="0.45">c</text><text x="105.01" y="0.00" font-family="Liberation Serif" font-size="15.1" fill="#0a0a0a" textLength="11.54" lengthAdjust="spacingAndGlyphs" stroke="#0a0a0a" stroke-width="0.45">m</text><text x="117.29" y="0.00" font-family="Liberation Serif" font-size="15.1" fill="#0a0a0a" textLength="4.38" lengthAdjust="spacingAndGlyphs" stroke="#0a0a0a" stroke-width="0.45">i</text><text x="123.59" y="0.00" font-family="Liberation Serif" font-size="15.1" fill="#0a0a0a" textLength="7.31" lengthAdjust="spacingAndGlyphs" stroke="#0a0a0a" stroke-width="0.45">n</text><text x="8.20" y="-7.80" font-family="Liberation Sans" font-size="9.2" font-weight="bold" fill="#0a0a0a" textLength="6.47" lengthAdjust="spacingAndGlyphs">2</text><path d="M24.9 2.6 L32.4 -11.5" stroke="#0a0a0a" stroke-width="1.2" fill="none"/><path d="M79.9 -11.85 H76.4 V2.5 H79.9" stroke="#0a0a0a" stroke-width="1.15" fill="none"/><path d="M132.4 -10.3 H138.6" stroke="#0a0a0a" stroke-width="1.3" fill="none"/><text x="139.93" y="-7.00" font-family="Liberation Sans" font-size="9.2" font-weight="bold" fill="#0a0a0a" textLength="5.89" lengthAdjust="spacingAndGlyphs">2</text><path d="M146.9 -11.85 H150.6 V2.4 H146.9" stroke="#0a0a0a" stroke-width="1.15" fill="none"/></g>
</svg>
</body></html>
